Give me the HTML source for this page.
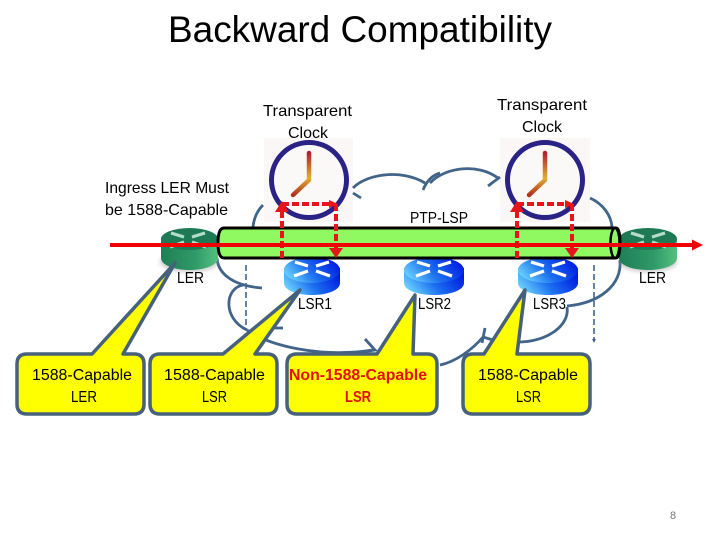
<!DOCTYPE html>
<html>
<head>
<meta charset="utf-8">
<style>
html,body{margin:0;padding:0;background:#fff;width:720px;height:540px;overflow:hidden}
svg{display:block}
text{font-family:"Liberation Sans",sans-serif;fill:#000;font-size:16px}
.c{fill:none;stroke:#41648a;stroke-width:2.8}
.b{fill:#ffff00;stroke:#46617c;stroke-width:3.5;stroke-linejoin:round}
.rd{fill:none;stroke:#e8141c;stroke-width:4;stroke-dasharray:7 3}
.hand{fill:none;stroke-width:4.5;stroke-linecap:round;stroke-linejoin:round;stroke:url(#hand)}
</style>
</head>
<body>
<svg width="720" height="540" viewBox="0 0 720 540" xmlns="http://www.w3.org/2000/svg">
<defs>
<linearGradient id="lsr" x1="0" x2="1" y1="0.7" y2="0.3"><stop offset="0" stop-color="#6fd8ff"/><stop offset="0.45" stop-color="#1c70f0"/><stop offset="1" stop-color="#0018e0"/></linearGradient>
<linearGradient id="ler" x1="0" x2="1" y1="0" y2="0"><stop offset="0" stop-color="#1f7f55"/><stop offset="0.6" stop-color="#2f9a68"/><stop offset="1" stop-color="#55c080"/></linearGradient>
<linearGradient id="hand" x1="0" x2="0" y1="0" y2="1"><stop offset="0" stop-color="#b02030"/><stop offset="0.6" stop-color="#e0b030"/><stop offset="1" stop-color="#b03020"/></linearGradient>
<filter id="sh" x="-20%" y="-20%" width="140%" height="150%"><feGaussianBlur stdDeviation="2"/></filter>
<g id="arrows">
<path d="M-4 -2 L-17 -6 M4 -2 L17 -6 M-4 3 L-18 8 M4 3 L18 8" stroke-width="3.2" fill="none"/>
</g>
</defs>

<!-- clock backgrounds -->
<rect x="264" y="138" width="89" height="84" fill="#faf7f6"/>
<rect x="500" y="138" width="90" height="84" fill="#faf7f6"/>

<!-- cloud -->
<path class="c" d="M253 227 C254 217 258 210 263 205"/>
<path class="c" d="M353 188 C365 175 400 168 425 183"/>
<path class="c" d="M353 193 L361 198"/>
<path class="c" d="M423 190 C427 180 433 175 440 173"/>
<path class="c" d="M430 183 C445 167 478 163 498 178"/>
<path class="c" d="M488 186 L500 177"/>
<path class="c" d="M590 198 C603 204 611 215 612 227"/>
<path class="c" d="M620 260 C622 285 600 303 567 306"/>
<path class="c" d="M567 307 C570 325 548 342 517 342"/>
<path class="c" d="M440 365 C455 362 472 350 483 337"/>
<path class="c" d="M485 328 L482 343 M483 337 L493 340"/>
<path class="c" d="M217 258 C218 275 235 286 262 288"/>
<path class="c" d="M243 285 C225 288 222 318 247 330"/>
<path class="c" d="M247 330 C270 346 320 358 373 350"/>
<path class="c" d="M365 339 L375 350 L362 352"/>
<path class="c" d="M270 328 L283 328"/>
<path class="c" d="M246 265 V330" stroke-dasharray="6 3" style="stroke-width:1.6"/>
<path class="c" d="M594 265 V340" stroke-dasharray="6 3" style="stroke-width:1.6"/>
<path d="M594 343 l-2 -4 h4z" fill="#41648a"/>

<!-- clocks -->
<circle cx="309" cy="180" r="37.5" fill="#fbf9f8" stroke="#2b2285" stroke-width="5"/>
<path class="hand" d="M309 153 V180 L293 195"/>
<circle cx="545" cy="180" r="37.5" fill="#fbf9f8" stroke="#2b2285" stroke-width="5"/>
<path class="hand" d="M545 153 V180 L529 195"/>

<!-- routers back -->
<ellipse cx="189" cy="262" rx="29" ry="10" fill="#999" opacity=".5" filter="url(#sh)"/>
<ellipse cx="648" cy="262" rx="29" ry="10" fill="#999" opacity=".5" filter="url(#sh)"/>
<path d="M161 239 V258 C161 265 174 270 189.500 270 C205 270 218 265 218 258 V239Z" fill="url(#ler)"/>
<ellipse cx="189.500" cy="239" rx="28.500" ry="11" fill="#1d7a54"/>
<path d="M619 239 V258 C619 265 632 270 648 270 C664 270 677 265 677 258 V239Z" fill="url(#ler)"/>
<ellipse cx="648" cy="239" rx="29" ry="11" fill="#1d7a54"/>
<use href="#arrows" x="188" y="239" stroke="#b5dccb"/>
<use href="#arrows" x="648" y="239" stroke="#b5dccb"/>

<!-- LSRs -->
<g fill="url(#lsr)">
<path d="M284 268 V283 C284 290 296 295 312 295 C328 295 340 290 340 283 V268Z"/>
<ellipse cx="312" cy="270" rx="28" ry="13"/>
<path d="M404 268 V283 C404 290 417 295 434 295 C451 295 464 290 464 283 V268Z"/>
<ellipse cx="434" cy="270" rx="30" ry="13"/>
<path d="M518 268 V283 C518 290 531 295 548 295 C565 295 578 290 578 283 V268Z"/>
<ellipse cx="548" cy="270" rx="30" ry="13"/>
</g>
<use href="#arrows" x="312" y="268" stroke="#ffffff"/>
<use href="#arrows" x="434" y="268" stroke="#ffffff"/>
<use href="#arrows" x="548" y="268" stroke="#ffffff"/>

<!-- tube -->
<path d="M224 228 H616 Q620 228 620 243 Q620 258 616 258 H224 Q218 258 218 243 Q218 228 224 228Z" fill="#90f860" stroke="#000" stroke-width="3"/>
<ellipse cx="615" cy="243" rx="4.500" ry="15" fill="none" stroke="#000" stroke-width="2.500"/>

<!-- dashed red paths -->
<path class="rd" d="M282 258 V210"/>
<path class="rd" d="M282 204 H332"/>
<path class="rd" d="M336 204 V250"/>
<path d="M275 212 L282 201 L289 212Z" fill="#e8141c"/>
<path d="M329 200 L338 204 L329 208Z" fill="#e8141c"/>
<path d="M329 248 L336 258 L343 248Z" fill="#e8141c"/>
<path class="rd" d="M517 258 V210"/>
<path class="rd" d="M517 204 H568"/>
<path class="rd" d="M572 204 V250"/>
<path d="M510 212 L517 201 L524 212Z" fill="#e8141c"/>
<path d="M565 200 L574 204 L565 208Z" fill="#e8141c"/>
<path d="M565 248 L572 258 L579 248Z" fill="#e8141c"/>

<!-- red line -->
<rect x="110" y="243" width="584" height="4" fill="#f00000"/>
<path d="M692 239.500 L703 245 L692 250.500Z" fill="#f00000"/>

<!-- callouts -->
<path class="b" d="M27 354 H92 L175 263 L123 354 H134 Q144 354 144 364 V404 Q144 414 134 414 H27 Q17 414 17 404 V364 Q17 354 27 354Z"/>
<path class="b" d="M160 354 H223 L300 290 L255 354 H267 Q277 354 277 364 V404 Q277 414 267 414 H160 Q150 414 150 404 V364 Q150 354 160 354Z"/>
<path class="b" d="M297 354 H377 L415 295 L413 354 H427 Q437 354 437 364 V404 Q437 414 427 414 H297 Q287 414 287 404 V364 Q287 354 297 354Z"/>
<path class="b" d="M473 354 H484 L525 290 L517 354 H580 Q590 354 590 364 V404 Q590 414 580 414 H473 Q463 414 463 404 V364 Q463 354 473 354Z"/>

<!-- text -->
<text x="168" y="42" style="font-size:37px" textLength="384" lengthAdjust="spacingAndGlyphs">Backward Compatibility</text>
<text x="263" y="116" textLength="89" lengthAdjust="spacingAndGlyphs">Transparent</text>
<text x="288" y="138" textLength="40" lengthAdjust="spacingAndGlyphs">Clock</text>
<text x="497" y="110" textLength="90" lengthAdjust="spacingAndGlyphs">Transparent</text>
<text x="522" y="132" textLength="40" lengthAdjust="spacingAndGlyphs">Clock</text>
<text x="105" y="193" textLength="124" lengthAdjust="spacingAndGlyphs">Ingress LER Must</text>
<text x="105" y="215" textLength="123" lengthAdjust="spacingAndGlyphs">be 1588-Capable</text>
<text x="410" y="223" textLength="58" lengthAdjust="spacingAndGlyphs">PTP-LSP</text>
<text x="177" y="283" textLength="27" lengthAdjust="spacingAndGlyphs">LER</text>
<text x="639" y="283" textLength="27" lengthAdjust="spacingAndGlyphs">LER</text>
<text x="298" y="309" textLength="34" lengthAdjust="spacingAndGlyphs">LSR1</text>
<text x="418" y="309" textLength="33" lengthAdjust="spacingAndGlyphs">LSR2</text>
<text x="533" y="309" textLength="33" lengthAdjust="spacingAndGlyphs">LSR3</text>
<text x="32" y="380" textLength="100" lengthAdjust="spacingAndGlyphs">1588-Capable</text>
<text x="71" y="402" textLength="26" lengthAdjust="spacingAndGlyphs">LER</text>
<text x="164" y="380" textLength="101" lengthAdjust="spacingAndGlyphs">1588-Capable</text>
<text x="202" y="402" textLength="25" lengthAdjust="spacingAndGlyphs">LSR</text>
<text x="289" y="380" textLength="138" lengthAdjust="spacingAndGlyphs" style="fill:#e01010;font-weight:bold">Non-1588-Capable</text>
<text x="345" y="402" textLength="26" lengthAdjust="spacingAndGlyphs" style="fill:#e01010;font-weight:bold">LSR</text>
<text x="478" y="380" textLength="100" lengthAdjust="spacingAndGlyphs">1588-Capable</text>
<text x="516" y="402" textLength="25" lengthAdjust="spacingAndGlyphs">LSR</text>
<text x="670" y="519" style="font-size:11px;fill:#777">8</text>
</svg>
</body>
</html>
